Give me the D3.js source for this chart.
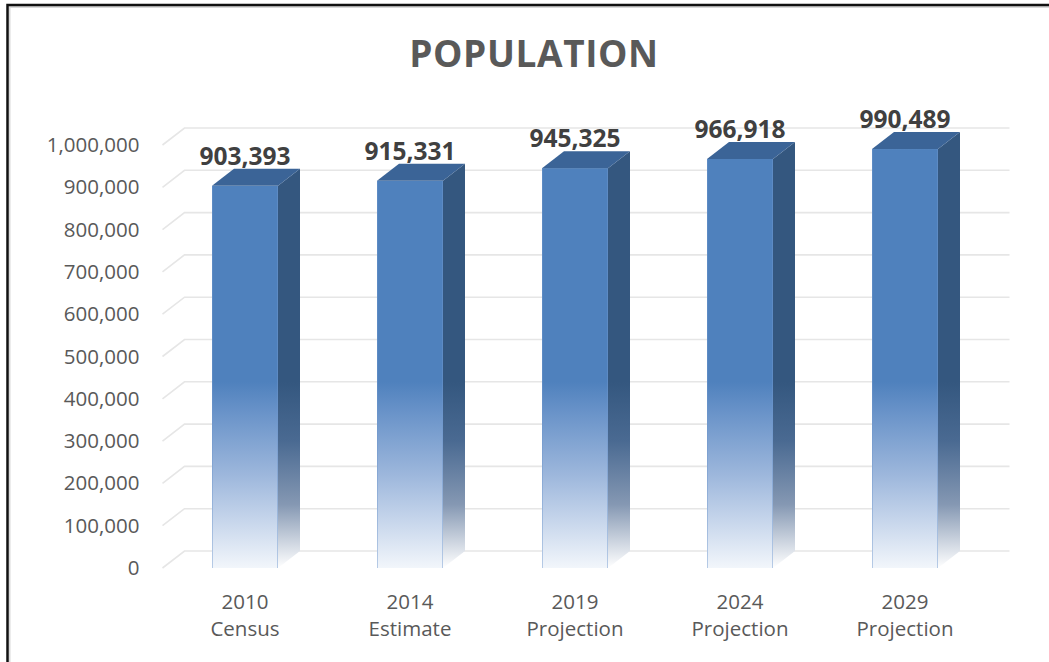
<!DOCTYPE html>
<html>
<head>
<meta charset="utf-8">
<script src="https://cdn.jsdelivr.net/npm/d3@7"></script>
<style>
  html, body { margin: 0; padding: 0; background: #fff; }
  svg { display: block; }
</style>
</head>
<body>
<svg id="chart" width="1049" height="662"></svg>
<script>
const title = "POPULATION";
const categories = ["2010 Census", "2014 Estimate", "2019 Projection", "2024 Projection", "2029 Projection"];
const categoryLines = [["2010", "Census"], ["2014", "Estimate"], ["2019", "Projection"], ["2024", "Projection"], ["2029", "Projection"]];
const values = [903393, 915331, 945325, 966918, 990489];
const tickValues = [0, 100000, 200000, 300000, 400000, 500000, 600000, 700000, 800000, 900000, 1000000];

const W = 1049, H = 662;
const svg = d3.select("#chart");
svg.append("rect").attr("width", W).attr("height", H).attr("fill", "#fff");

const FONT = "'Open Sans', 'Liberation Sans', sans-serif";
const depthX = 22, depthY = -17;

const x = d3.scaleBand().domain(categories).range([162.5, 987.5]).paddingInner(0.6).paddingOuter(0.3);
const y = d3.scaleLinear().domain([0, 1000000]).range([568, 145]);

// defs: gradients
const defs = svg.append("defs");
const gFront = defs.append("linearGradient").attr("id", "gFront")
  .attr("gradientUnits", "userSpaceOnUse")
  .attr("x1", 0).attr("x2", 0).attr("y1", y(1000000)).attr("y2", y(0));
[[0, "#4f81bd"], [0.56, "#4f81bd"], [0.62, "#6590c7"], [0.78, "#9db7dc"], [0.9, "#cbd9ed"], [1, "#f2f6fb"]]
  .forEach(([o, c]) => gFront.append("stop").attr("offset", o).attr("stop-color", c));

const gSide = defs.append("linearGradient").attr("id", "gSide")
  .attr("gradientUnits", "userSpaceOnUse")
  .attr("x1", 0).attr("x2", 0).attr("y1", y(1000000)).attr("y2", y(0));
[[0, "#34577f"], [0.56, "#34577f"], [0.7, "#4a6a92"], [0.85, "#8598b3"], [1, "#ffffff"]]
  .forEach(([o, c]) => gSide.append("stop").attr("offset", o).attr("stop-color", c));

// frame
svg.append("path").attr("d", `M9.5,${H} L9.5,7 L${W},7`).attr("fill", "none").attr("stroke", "#d9d9d9").attr("stroke-width", 2);
svg.append("path").attr("d", `M7.5,${H} L7.5,5 L${W},5`).attr("fill", "none").attr("stroke", "#111").attr("stroke-width", 2.5);

// title
svg.append("text").attr("x", 534).attr("y", 67).attr("text-anchor", "middle")
  .attr("font-family", FONT).attr("font-weight", "bold").attr("font-size", 37)
  .attr("letter-spacing", 0.6)
  .attr("fill", "#595959").text(title);

// gridlines (3D wall)
const x0 = x.range()[0], x1 = x.range()[1];
svg.append("g").selectAll("path").data(tickValues).join("path")
  .attr("d", d => `M${x0},${y(d)} L${x0 + depthX},${y(d) + depthY} L${x1 + depthX},${y(d) + depthY}`)
  .attr("fill", "none").attr("stroke", "#e6e6e6").attr("stroke-width", 1.6);

// y axis
const yAxis = svg.append("g").attr("transform", `translate(${x0},0)`)
  .call(d3.axisLeft(y).tickValues(tickValues).tickFormat(d3.format(",")).tickSize(0).tickPadding(23));
yAxis.select(".domain").remove();
yAxis.selectAll("text").attr("font-family", FONT).attr("font-size", 20.5).attr("fill", "#595959");

// bars
const bars = svg.append("g").selectAll("g").data(values).join("g");
bars.each(function(v, i) {
  const g = d3.select(this);
  const bx = x(categories[i]), bw = x.bandwidth();
  const top = y(v), bot = y(0);
  // side
  g.append("path")
    .attr("d", `M${bx + bw},${top} L${bx + bw + depthX},${top + depthY} L${bx + bw + depthX},${bot + depthY} L${bx + bw},${bot} Z`)
    .attr("fill", "url(#gSide)");
  // front
  g.append("rect").attr("x", bx).attr("y", top).attr("width", bw).attr("height", bot - top)
    .attr("fill", "url(#gFront)");
  // subtle vertical edges of the front face
  g.append("path")
    .attr("d", `M${bx + 0.5},${top} L${bx + 0.5},${bot} M${bx + bw - 0.5},${top} L${bx + bw - 0.5},${bot}`)
    .attr("stroke", "rgba(110,150,205,0.45)").attr("stroke-width", 1).attr("fill", "none");
  // top
  g.append("path")
    .attr("d", `M${bx},${top} L${bx + depthX},${top + depthY} L${bx + bw + depthX},${top + depthY} L${bx + bw},${top} Z`)
    .attr("fill", "#3b6497");
  // value label
  g.append("text").attr("x", bx + bw / 2).attr("y", top + depthY - 4).attr("text-anchor", "middle")
    .attr("font-family", FONT).attr("font-weight", "bold").attr("font-size", 24.5)
    .attr("fill", "#404040").text(d3.format(",")(v));
});

// x labels
const xl = svg.append("g").selectAll("text").data(categories).join("text")
  .attr("x", d => x(d) + x.bandwidth() / 2).attr("y", 609).attr("text-anchor", "middle")
  .attr("font-family", FONT).attr("font-size", 20.5).attr("fill", "#595959");
xl.each(function(d, i) {
  const t = d3.select(this);
  categoryLines[i].forEach((ln, k) => {
    t.append("tspan").attr("x", x(d) + x.bandwidth() / 2).attr("dy", k === 0 ? 0 : 27).text(ln);
  });
});
</script>
</body>
</html>
